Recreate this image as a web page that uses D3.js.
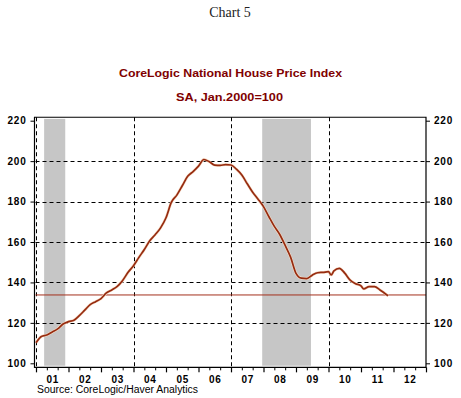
<!DOCTYPE html>
<html>
<head>
<meta charset="utf-8">
<script src="https://cdn.jsdelivr.net/npm/d3@7"></script>
<style>
  body { margin: 0; background: white; }
  svg { display: block; }
</style>
</head>
<body>
<div id="chart"></div>
<script>
// CoreLogic index, SA, Jan.2000=100
let months = [
  '2001-01','2001-03','2001-05','2001-07','2001-09','2001-11',
  '2002-01','2002-03','2002-05','2002-07','2002-09','2002-11',
  '2003-01','2003-03','2003-05','2003-07','2003-09','2003-11',
  '2004-01','2004-03','2004-05','2004-07','2004-09','2004-11',
  '2005-01','2005-03','2005-05','2005-07','2005-09','2005-11',
  '2006-01','2006-03','2006-05','2006-07','2006-09','2006-11',
  '2007-01','2007-03','2007-05','2007-07','2007-09','2007-11',
  '2008-01','2008-03','2008-05','2008-07','2008-09','2008-11',
  '2009-01','2009-03','2009-05','2009-07','2009-09','2009-11',
  '2010-01','2010-02','2010-03','2010-05','2010-07','2010-09','2010-11',
  '2011-01','2011-02','2011-04','2011-06','2011-08','2011-11'
];
let hpi = [
  110.2, 113.3, 114.0, 115.5, 117.0, 119.4,
  120.6, 121.3, 123.6, 126.3, 129.0, 130.5,
  132.0, 134.8, 136.3, 138.0, 141.0, 145.0,
  148.3, 152.4, 156.3, 160.6, 163.6, 167.0,
  172.0, 179.7, 183.2, 187.8, 192.5, 194.8,
  197.5, 200.8, 199.7, 198.0, 197.9, 198.3,
  198.1, 196.0, 193.1, 188.8, 184.6, 181.2,
  177.5, 172.5, 167.7, 163.7, 158.3, 152.5,
  144.5, 142.1, 141.9, 143.6, 144.8, 145.0,
  145.3, 143.7, 145.7, 147.0, 144.6, 141.1, 139.4,
  138.3, 136.8, 137.9, 137.9, 136.3, 133.4
];
let latest = 133.8;

// recessions (start, end as decimal years)
let recessions = [[2001.25, 2001.9], [2007.96, 2009.46]];

let yTicks = [100, 120, 140, 160, 180, 200, 220];
let yGrid = [120, 140, 160, 180, 200];
let xGrid = [2001, 2004, 2007, 2010];
let yearLabels = ['01','02','03','04','05','06','07','08','09','10','11','12'];

function toYear(s) {
    let p = s.split('-');
    return +p[0] + (+p[1] - 1) / 12;
}

let data = months.map((m, i) => ({t: toYear(m), v: hpi[i]}));

let svg = d3.select('#chart').append('svg')
    .attr('width', 461)
    .attr('height', 398);

let x = d3.scaleLinear().domain([2001, 2013]).range([36, 426]);
let y = d3.scaleLinear().domain([100, 220]).range([363.3, 120.7]);

let plotTop = y(221.7);
let plotBottom = y(98);
let axisX = 34.5;

// titles
svg.append('text')
    .text('Chart 5')
    .attr('x', 230)
    .attr('y', 17)
    .attr('text-anchor', 'middle')
    .style('font-family', '"Liberation Serif", "Times New Roman", serif')
    .style('font-size', '14px')
    .attr('fill', '#222');

svg.append('text')
    .text('CoreLogic National House Price Index')
    .attr('x', 230.5)
    .attr('y', 77)
    .attr('text-anchor', 'middle')
    .attr('textLength', 223)
    .attr('lengthAdjust', 'spacingAndGlyphs')
    .style('font-family', '"Liberation Sans", Arial, sans-serif')
    .style('font-size', '11px')
    .style('font-weight', 'bold')
    .attr('fill', '#800000');

svg.append('text')
    .text('SA, Jan.2000=100')
    .attr('x', 229.5)
    .attr('y', 101)
    .attr('text-anchor', 'middle')
    .attr('textLength', 107)
    .attr('lengthAdjust', 'spacingAndGlyphs')
    .style('font-family', '"Liberation Sans", Arial, sans-serif')
    .style('font-size', '11px')
    .style('font-weight', 'bold')
    .attr('fill', '#800000');

// recession bands
svg.append('g').selectAll('rect')
    .data(recessions)
    .enter()
    .append('rect')
    .attr('x', d => x(d[0]))
    .attr('width', d => x(d[1]) - x(d[0]))
    .attr('y', y(220.9))
    .attr('height', y(98.8) - y(220.9))
    .attr('fill', '#c6c6c6');

// grid
let grid = svg.append('g')
    .attr('stroke', '#000')
    .attr('stroke-width', 1)
    .attr('stroke-dasharray', '4,3');

grid.selectAll('.hg')
    .data(yGrid)
    .enter()
    .append('line')
    .attr('class', 'hg')
    .attr('x1', axisX + 1)
    .attr('x2', x(2013))
    .attr('y1', d => Math.round(y(d)) + 0.5)
    .attr('y2', d => Math.round(y(d)) + 0.5);

grid.selectAll('.vg')
    .data(xGrid)
    .enter()
    .append('line')
    .attr('class', 'vg')
    .attr('x1', d => Math.round(x(d)) + 0.5)
    .attr('x2', d => Math.round(x(d)) + 0.5)
    .attr('y1', plotTop)
    .attr('y2', plotBottom);

// latest value line
svg.append('line')
    .attr('x1', axisX + 1)
    .attr('x2', x(2013))
    .attr('y1', y(latest))
    .attr('y2', y(latest))
    .attr('stroke', '#a3301c')
    .attr('stroke-width', 1);

// series
let line = d3.line()
    .x(d => x(d.t))
    .y(d => y(d.v))
    .curve(d3.curveMonotoneX);

svg.append('path')
    .datum(data)
    .attr('d', line)
    .attr('fill', 'none')
    .attr('stroke', '#f6dcc6')
    .attr('stroke-width', 2.8)
    .attr('stroke-linejoin', 'round');

svg.append('path')
    .datum(data)
    .attr('d', line)
    .attr('fill', 'none')
    .attr('stroke', '#962b10')
    .attr('stroke-width', 1.7)
    .attr('stroke-linejoin', 'round');

// frame
let frame = svg.append('g')
    .attr('stroke', '#000')
    .attr('stroke-width', 1.2)
    .attr('fill', 'none');

frame.append('path')
    .attr('d', 'M' + axisX + ',' + plotTop + 'H' + x(2013) + 'V' + plotBottom + 'H' + axisX + 'Z');

// y axes
let tickFont = function(g) {
    g.selectAll('text')
        .style('font-family', '"Liberation Sans", Arial, sans-serif')
        .style('font-size', '10px')
        .style('font-weight', 'bold')
        .style('letter-spacing', '0.8px')
        .attr('fill', '#000');
    g.select('.domain').remove();
    g.selectAll('line').attr('stroke', '#000');
};

svg.append('g')
    .attr('transform', 'translate(' + axisX + ',0)')
    .call(d3.axisLeft(y).tickValues(yTicks).tickSize(4).tickPadding(4))
    .call(tickFont);

svg.append('g')
    .attr('transform', 'translate(' + x(2013) + ',0)')
    .call(d3.axisRight(y).tickValues(yTicks).tickSize(4).tickPadding(4))
    .call(tickFont);

// x axis ticks: every 4 months, longer at year starts
let minorTicks = d3.range(0, 37).map(i => 2001 + i / 3).filter((d, i) => i % 3 !== 0);
let majorTicks = d3.range(2001, 2014);

svg.append('g')
    .attr('transform', 'translate(0,' + plotBottom + ')')
    .call(d3.axisBottom(x).tickValues(minorTicks).tickSize(3).tickFormat(''))
    .call(g => g.select('.domain').remove())
    .call(g => g.selectAll('line').attr('stroke', '#000'));

svg.append('g')
    .attr('transform', 'translate(0,' + plotBottom + ')')
    .call(d3.axisBottom(x).tickValues(majorTicks).tickSize(5).tickFormat(''))
    .call(g => g.select('.domain').remove())
    .call(g => g.selectAll('line').attr('stroke', '#000').attr('stroke-width', 1.2));

svg.append('g')
    .attr('transform', 'translate(0,' + plotBottom + ')')
    .call(d3.axisBottom(x)
        .tickValues(yearLabels.map((d, i) => 2001.5 + i))
        .tickSize(0)
        .tickPadding(9)
        .tickFormat((d, i) => yearLabels[i]))
    .call(tickFont);

// source
svg.append('text')
    .text('Source:  CoreLogic/Haver Analytics')
    .attr('x', 37)
    .attr('y', 393)
    .attr('textLength', 161)
    .attr('lengthAdjust', 'spacingAndGlyphs')
    .style('font-family', '"Liberation Sans", Arial, sans-serif')
    .style('font-size', '10px')
    .attr('fill', '#000');
</script>
</body>
</html>
